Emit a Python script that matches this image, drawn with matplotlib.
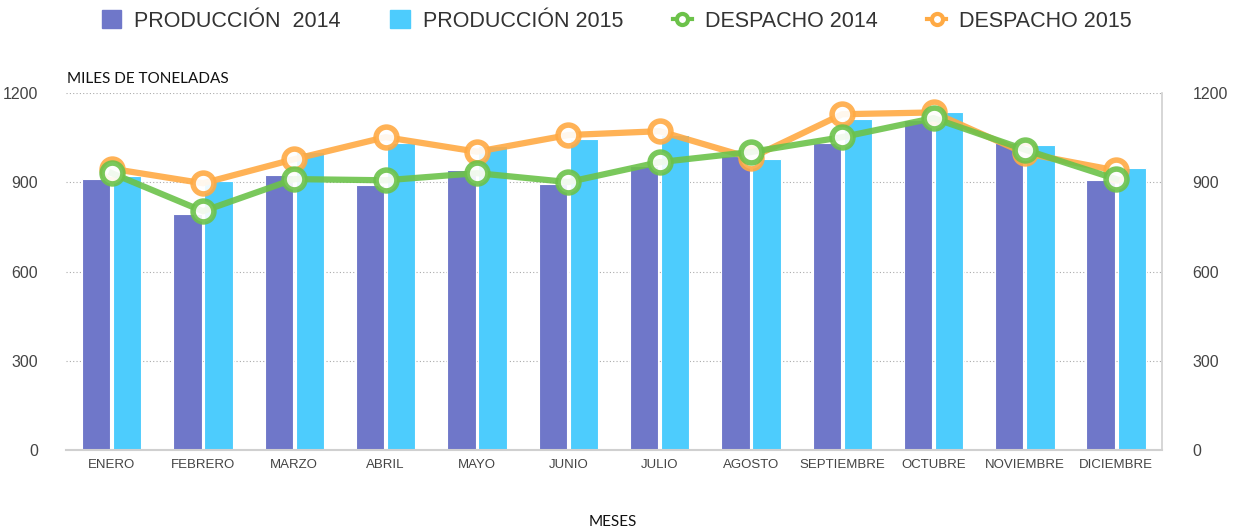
import numpy as np
import matplotlib.pyplot as plt
from matplotlib.lines import Line2D
from matplotlib.patches import Patch

meses = ['ENERO', 'FEBRERO', 'MARZO', 'ABRIL', 'MAYO', 'JUNIO', 'JULIO',
         'AGOSTO', 'SEPTIEMBRE', 'OCTUBRE', 'NOVIEMBRE', 'DICIEMBRE']
produccion_2014 = [910, 793, 926, 891, 943, 896, 955, 990, 1032, 1108, 1032, 909]
produccion_2015 = [922, 904, 1002, 1032, 1022, 1045, 1059, 978, 1112, 1136, 1025, 948]
despacho_2014 = [931, 803, 911, 907, 931, 901, 968, 1002, 1052, 1116, 1010, 911]
despacho_2015 = [946, 897, 978, 1052, 1003, 1059, 1072, 982, 1129, 1135, 998, 940]

c_p14 = '#6f77c9'
c_p15 = '#4dccfd'
c_d14 = '#6cc24a'
c_d15 = '#ffaa44'

fig = plt.figure(figsize=(12.34, 5.29), dpi=100)
ax = fig.add_axes([0.0535, 0.149, 0.888, 0.675])

x = np.arange(len(meses))
width = 0.31
ax.bar(x - 0.17, produccion_2014, width, color=c_p14, edgecolor='white', linewidth=0.8, zorder=2)
ax.bar(x + 0.17, produccion_2015, width, color=c_p15, edgecolor='white', linewidth=0.8, zorder=2)

ax.plot(x, despacho_2015, color=c_d15, lw=4.5, alpha=0.9, marker='o', ms=15,
        mfc='white', mec=c_d15, mew=4, zorder=3)
ax.plot(x, despacho_2014, color=c_d14, lw=4.5, alpha=0.9, marker='o', ms=15,
        mfc='white', mec=c_d14, mew=4, zorder=4)

ax.set_xlim(-0.5, len(meses) - 0.5)
ax.set_ylim(0, 1200)
ax.set_yticks([0, 300, 600, 900, 1200])
ax.set_xticks(x)
ax.set_xticklabels(meses, fontsize=9.5, color='#444444', family='Liberation Sans')
ax.tick_params(axis='x', length=0, pad=6)
ax.tick_params(axis='y', length=0, pad=20, labelsize=11.5, labelcolor='#444444')
for lab in ax.get_yticklabels():
    lab.set_family('Liberation Sans')
ax.grid(axis='y', linestyle=(0, (1, 2)), color='#aaaaaa', lw=0.8, zorder=0)

for s in ['top', 'left']:
    ax.spines[s].set_visible(False)
ax.spines['bottom'].set_color('#d0d0d0')
ax.spines['bottom'].set_linewidth(1.5)
ax.spines['right'].set_color('#d0d0d0')
ax.spines['right'].set_linewidth(1.2)

ax2 = ax.twinx()
ax2.set_ylim(0, 1200)
ax2.set_yticks([0, 300, 600, 900, 1200])
ax2.tick_params(axis='y', length=0, pad=22, labelsize=11.5, labelcolor='#444444')
for lab in ax2.get_yticklabels():
    lab.set_family('Liberation Sans')
for s in ax2.spines.values():
    s.set_visible(False)

fig.text(0.0545, 0.843, 'MILES DE TONELADAS', fontsize=11, family='Lato', color='#111111')
fig.text(0.497, 0.005, 'MESES', fontsize=11, family='Lato', color='#111111', ha='center')

handles = [
    Patch(color=c_p14, label='PRODUCCIÓN  2014'),
    Patch(color=c_p15, label='PRODUCCIÓN 2015'),
    Line2D([], [], color=c_d14, lw=3, marker='o', ms=8, mfc='white', mec=c_d14, mew=3,
           label='DESPACHO 2014'),
    Line2D([], [], color=c_d15, lw=3, marker='o', ms=8, mfc='white', mec=c_d15, mew=3,
           label='DESPACHO 2015'),
]
fig.legend(handles=handles, loc='center', bbox_to_anchor=(0.5, 0.96), ncol=4,
           frameon=False, handlelength=0.9, handleheight=0.9, handletextpad=0.6,
           columnspacing=2.3, prop={'family': 'Liberation Sans', 'size': 15.5},
           labelcolor='#333333')

fig.savefig('out.png', dpi=100)
